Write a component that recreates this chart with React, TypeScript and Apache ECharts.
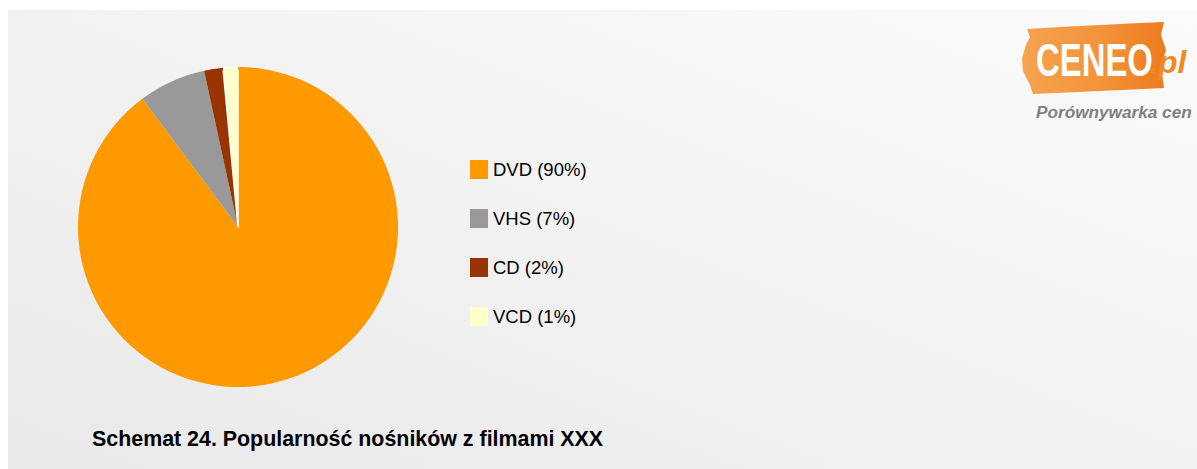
import React, { useEffect, useRef } from "react";
import * as echarts from "echarts";

const categories = ["DVD (90%)", "VHS (7%)", "CD (2%)", "VCD (1%)"];
const shares = [89.8, 6.8, 1.9, 1.5];
const colors = ["#FF9900", "#999999", "#993300", "#FFFFCC"];
const titleText = "Schemat 24. Popularność nośników z filmami XXX";

export default function App() {
  const ref = useRef<HTMLDivElement>(null);
  useEffect(() => {
    if (!ref.current) return;
    const chart = echarts.init(ref.current, null, { renderer: "svg" });
    const data = categories.map((name, i) => {
      const item: any = { name, value: shares[i], itemStyle: { color: colors[i] } };
      if (i === categories.length - 1) {
        item.itemStyle = { color: colors[i], borderColor: "#ffffff", borderWidth: 1.5, borderRadius: 4 };
      }
      return item;
    });
    const tagPts = [
      [1027, 29], [1060, 27], [1100, 25], [1140, 23], [1164, 22],
      [1161, 35], [1166, 50], [1161, 66], [1164, 88],
      [1100, 91], [1033, 94],
      [1030, 85], [1023, 71], [1022, 58], [1026, 45], [1030, 37],
    ];
    chart.setOption({
      animation: false,
      graphic: [
        {
          type: "rect",
          z: -10,
          shape: { x: 8, y: 10, width: 1189, height: 459 },
          style: {
            fill: new echarts.graphic.LinearGradient(0, 1, 1, 0, [
              { offset: 0, color: "#e9e9e9" },
              { offset: 1, color: "#fbfbfb" },
            ]),
          },
          silent: true,
        },
        {
          type: "polygon",
          shape: { points: tagPts },
          style: {
            fill: new echarts.graphic.LinearGradient(0, 0, 1, 0, [
              { offset: 0, color: "#f6a34f" },
              { offset: 0.6, color: "#f39138" },
              { offset: 1, color: "#ec7a1c" },
            ]),
          },
          silent: true,
        },
        {
          type: "text",
          x: 1036,
          y: 60,
          scaleX: 0.7,
          style: {
            text: "CENEO",
            font: "bold 47px 'Liberation Sans', Arial, sans-serif",
            fill: "#ffffff",
            verticalAlign: "middle",
            align: "left",
          },
          silent: true,
        },
        {
          type: "text",
          x: 1149,
          y: 62,
          style: {
            text: ".pl",
            font: "italic bold 32px 'Liberation Sans', Arial, sans-serif",
            fill: "#f08a24",
            verticalAlign: "middle",
            align: "left",
          },
          silent: true,
        },
        {
          type: "text",
          x: 1036,
          y: 112,
          style: {
            text: "Porównywarka cen",
            font: "italic bold 17.2px 'Liberation Sans', Arial, sans-serif",
            fill: "#808080",
            verticalAlign: "middle",
            align: "left",
          },
          silent: true,
        },
        {
          type: "text",
          x: 92,
          y: 439,
          style: {
            text: titleText,
            font: "bold 21.4px 'Liberation Sans', Arial, sans-serif",
            fill: "#000000",
            verticalAlign: "middle",
            align: "left",
          },
          silent: true,
        },
      ],
      legend: {
        orient: "vertical",
        left: 465,
        top: 155,
        itemWidth: 18,
        itemHeight: 19,
        itemGap: 30,
        icon: "rect",
        data: categories,
        itemStyle: { borderWidth: 0 },
        textStyle: {
          fontFamily: "'Liberation Sans', Arial, sans-serif",
          fontSize: 18.5,
          color: "#000000",
          lineHeight: 19,
        },
        selectedMode: false,
      },
      series: [
        {
          type: "pie",
          center: [238, 227],
          radius: [0, 160],
          startAngle: 90,
          clockwise: true,
          label: { show: false },
          labelLine: { show: false },
          emphasis: { disabled: true },
          data,
        },
      ],
    });
    return () => chart.dispose();
  }, []);
  return (
    <div
      ref={ref}
      style={{ position: "absolute", left: 0, top: 0, width: 1197, height: 469 }}
    />
  );
}
